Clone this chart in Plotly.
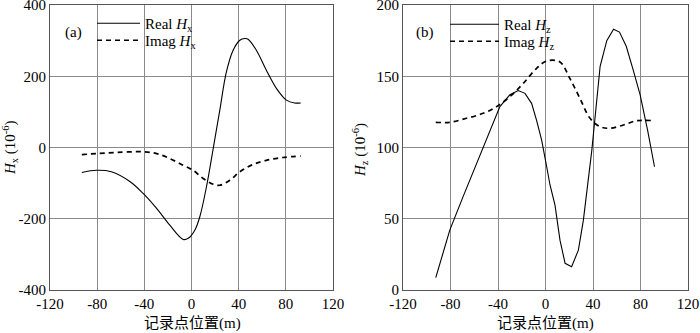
import plotly.graph_objects as go

# panel (a): Hx
hx_x = [-93, -80.5, -68, -52, -41, -29.6, -18.4, -7, -2.8, 2.8, 7, 12.7, 18.4, 24,
        29.6, 35.3, 41, 45, 48, 55, 63.5, 72, 80.5, 87.5, 92.6]
hx_real = [-70, -64, -68, -96, -129, -171, -218, -258, -255, -232, -195, -110, -3, 105,
           212, 273, 301, 306, 304, 273, 217, 166, 133, 125, 125]
hx_imag_x = [-93, -80.5, -63.5, -41, -29.6, -18.4, -7, 1.4, 9.9, 18.4, 24, 32.5, 41, 52,
             63.5, 77.6, 92.6]
hx_imag = [-20, -17, -14, -12, -17, -31, -50, -64, -87, -103, -106, -92, -68, -48,
           -36, -28, -24]

# panel (b): Hz
hz_x = [-92.4, -80.6, -69.4, -58, -46.8, -38.4, -30, -23, -17.3, -11.7, -7.5, -3.2, 1,
        3.8, 8, 12.2, 16.5, 22, 27.7, 31.9, 39, 46, 51.6, 57.3, 62.3, 68, 74, 79.7, 86, 91.8]
hz_real = [8.7, 42, 65.5, 89, 112, 128.7, 137, 140, 138, 131, 119, 105, 86.5,
           73.7, 59.6, 35, 18.7, 16.4, 28, 49, 98, 157, 175, 183, 181, 171, 154, 137, 112, 86.5]
hz_imag_x = [-92.4, -80.6, -66.5, -52.5, -41.2, -30, -18.7, -7.5, 1, 12.2, 20.5, 29,
             37.5, 46, 54.4, 65.6, 76.9, 91.8]
hz_imag = [117.7, 117.7, 120.5, 124, 128.7, 135.7, 145, 155.6, 160.7, 160, 148.5, 134.5,
           120.5, 114.6, 113.5, 115.8, 118.8, 118.8]

# tick labels (hyphen minus as in the original)
x_ticks = [-120, -80, -40, 0, 40, 80, 120]
x_labels = ["-120", "-80", "-40", "0", "40", "80", "120"]
hx_ticks = [-400, -200, 0, 200, 400]
hx_labels = ["-400", "-200", "0", "200", "400"]
hz_ticks = [0, 50, 100, 150, 200]
hz_labels = ["0", "50", "100", "150", "200"]

FONT = "Liberation Serif, Times New Roman, Noto Sans CJK SC, serif"
GRID = "#8a8a8a"
dash = "5px,4px"
H = 333.0
W = 700.0

fig = go.Figure()
fig.add_trace(go.Scatter(x=hx_x, y=hx_real, mode="lines", line=dict(color="black", width=1.1, shape="spline"),
                         name="Real <i>H</i><sub>x</sub>", xaxis="x", yaxis="y", legend="legend"))
fig.add_trace(go.Scatter(x=hx_imag_x, y=hx_imag, mode="lines", line=dict(color="black", width=1.7, dash=dash, shape="spline"),
                         name="Imag <i>H</i><sub>x</sub>", xaxis="x", yaxis="y", legend="legend2"))
fig.add_trace(go.Scatter(x=hz_x, y=hz_real, mode="lines", line=dict(color="black", width=1.1),
                         name="Real <i>H</i><sub>z</sub>", xaxis="x2", yaxis="y2", legend="legend3"))
fig.add_trace(go.Scatter(x=hz_imag_x, y=hz_imag, mode="lines", line=dict(color="black", width=1.7, dash=dash, shape="spline"),
                         name="Imag <i>H</i><sub>z</sub>", xaxis="x2", yaxis="y2", legend="legend4"))

ax = dict(showgrid=True, gridcolor=GRID, gridwidth=1, zeroline=False, showline=True,
          linecolor="#555", linewidth=1, mirror=True, ticks="", automargin=False,
          ticklabeloverflow="allow",
          tickfont=dict(family=FONT, size=15, color="black"), tickmode="array")


def leg(x, ytop, iw):
    return dict(x=x / W, y=1 - ytop / H, xanchor="left", yanchor="top", bgcolor="rgba(0,0,0,0)",
                font=dict(family=FONT, size=15), itemwidth=iw)


def label(text, x, y, angle=0):
    return dict(text=text, x=x / W, y=1 - y / H, xref="paper", yref="paper", showarrow=False,
                xanchor="center", yanchor="middle", textangle=angle, font=dict(family=FONT, size=15))


ydom = [1 - 290 / H, 1 - 5 / H]
fig.update_layout(
    width=700, height=333,
    margin=dict(l=0, r=0, t=0, b=0, autoexpand=False),
    paper_bgcolor="white", plot_bgcolor="white",
    font=dict(family=FONT, size=15, color="black"),
    xaxis=dict(ax, domain=[50 / W, 333 / W], range=[-120, 120], tickvals=x_ticks, ticktext=x_labels, anchor="y"),
    yaxis=dict(ax, domain=ydom, range=[-400, 400], tickvals=hx_ticks, ticktext=hx_labels, anchor="x"),
    xaxis2=dict(ax, domain=[403 / W, 688 / W], range=[-120, 120], tickvals=x_ticks, ticktext=x_labels, anchor="y2"),
    yaxis2=dict(ax, domain=ydom, range=[0, 200], tickvals=hz_ticks, ticktext=hz_labels, anchor="x2"),
    legend=leg(92, 7, 43),
    legend2=leg(92, 24, 43),
    legend3=leg(445, 8, 49),
    legend4=leg(445, 25, 49),
    showlegend=True,
    annotations=[
        label("(a)", 73, 33),
        label("(b)", 425, 33),
        label("记录点位置(m)", 192, 323),
        label("记录点位置(m)", 545, 323),
        label("<i>H</i><sub>x</sub> (10<sup>-6</sup>)", 10, 148, -90),
        label("<i>H</i><sub>z</sub> (10<sup>-6</sup>)", 360, 150, -90),
    ],
)

# page body has a default 8px margin; drop it so the figure sits at the window's corner
fig.write_html("out.html", config={"displayModeBar": False},
               post_script="document.body.style.margin='0';")
